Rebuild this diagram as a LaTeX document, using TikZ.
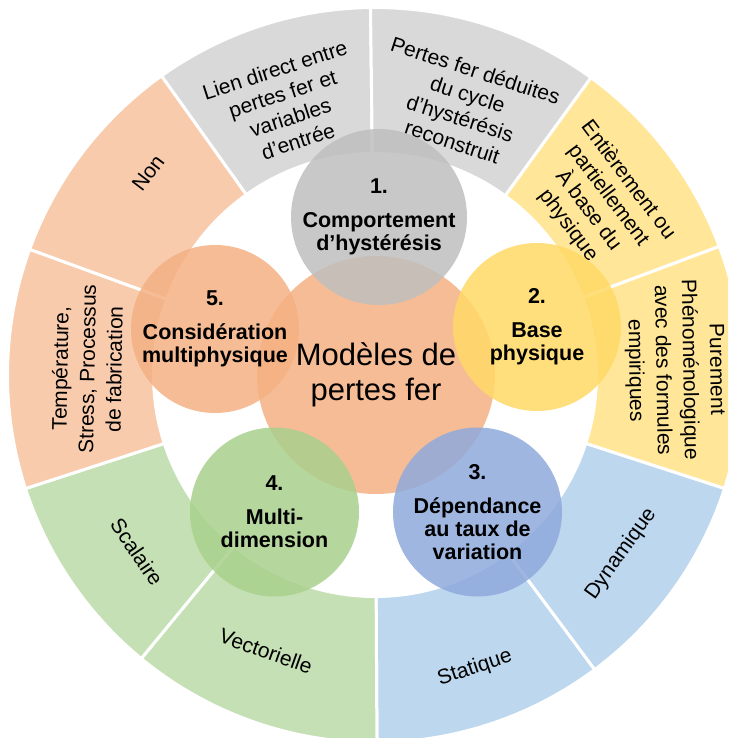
\documentclass[tikz,border=0pt]{standalone}
\usepackage{fontspec}
\setmainfont{Liberation Sans}
\definecolor{grisAnneau}{HTML}{D9D9D9}
\definecolor{jauneAnneau}{HTML}{FFE699}
\definecolor{bleuAnneau}{HTML}{BDD7EE}
\definecolor{vertAnneau}{HTML}{C5E0B4}
\definecolor{orangeAnneau}{HTML}{F8CBAD}
\definecolor{grisBulle}{HTML}{BFBFBF}
\definecolor{jauneBulle}{HTML}{FFD966}
\definecolor{bleuBulle}{HTML}{8FAADC}
\definecolor{vertBulle}{HTML}{A9D18E}
\definecolor{orangeBulle}{HTML}{F4B183}
\tikzset{
  secteur/.style={draw=white, line width=3pt},
  texteAnneau/.style={align=center, inner sep=0.75pt, font=\fontsize{21}{25}\selectfont},
  bulle/.style={circle, inner sep=0pt, fill opacity=0.85, text opacity=1, align=center, font=\bfseries\fontsize{21.5}{23}\selectfont},
}
\begin{document}
\begin{tikzpicture}[x=1pt,y=1pt,yscale=-1,xscale=1]
\useasboundingbox (0,0) rectangle (728,738);
\clip (0,0) rectangle (728,738);

%Shape: Arc
\draw[secteur, fill=jauneAnneau] (375,375) -- ++(-20.5:367.5) arc[start angle=-20.5, end angle=18, radius=367.5] -- cycle;
%Shape: Arc
\draw[secteur, fill=bleuAnneau] (375,375) -- ++(18:367.5) arc[start angle=18, end angle=53.3, radius=367.5] -- cycle;
%Shape: Arc
\draw[secteur, fill=bleuAnneau] (375,375) -- ++(53.3:367.5) arc[start angle=53.3, end angle=89.7, radius=367.5] -- cycle;
%Shape: Arc
\draw[secteur, fill=vertAnneau] (375,375) -- ++(89.7:367.5) arc[start angle=89.7, end angle=129.5, radius=367.5] -- cycle;
%Shape: Arc
\draw[secteur, fill=vertAnneau] (375,375) -- ++(129.5:367.5) arc[start angle=129.5, end angle=162, radius=367.5] -- cycle;
%Shape: Arc
\draw[secteur, fill=orangeAnneau] (375,375) -- ++(162:367.5) arc[start angle=162, end angle=200, radius=367.5] -- cycle;
%Shape: Arc
\draw[secteur, fill=orangeAnneau] (375,375) -- ++(200:367.5) arc[start angle=200, end angle=234.5, radius=367.5] -- cycle;
%Shape: Arc
\draw[secteur, fill=grisAnneau] (375,375) -- ++(234.5:367.5) arc[start angle=234.5, end angle=269.3, radius=367.5] -- cycle;
%Shape: Arc
\draw[secteur, fill=grisAnneau] (375,375) -- ++(269.3:367.5) arc[start angle=269.3, end angle=306, radius=367.5] -- cycle;
%Shape: Arc
\draw[secteur, fill=jauneAnneau] (375,375) -- ++(306:367.5) arc[start angle=306, end angle=339.5, radius=367.5] -- cycle;
%Shape: Circle
\fill[white] (375,375) circle[radius=223];

% Text Node
\draw (286.5,105.5) node [texteAnneau, rotate=18] (lienDirect) {Lien direct entre\\pertes fer et\\variables\\d’entrée};
% Text Node
\draw (464,106) node [texteAnneau, rotate=-18] (pertesDeduites) {Pertes fer déduites\\du cycle\\d’hystérésis\\reconstruit};
% Text Node
\draw (598,203) node [texteAnneau, rotate=-53] (baseEntiere) {Entièrement ou\\partiellement\\À base du\\physique};
% Text Node
\draw (675,370) node [texteAnneau, rotate=-89, font=\fontsize{21}{27}\selectfont] (purement) {Purement\\Phénoménologique\\avec des formules\\empiriques};
% Text Node
\draw (621,554) node [texteAnneau, rotate=54.4] (dynamique) {Dynamique};
% Text Node
\draw (475,668) node [texteAnneau, rotate=18.5] (statique) {Statique};
% Text Node
\draw (266,651) node [texteAnneau, rotate=-19.6] (vectorielle) {Vectorielle};
% Text Node
\draw (137,552) node [texteAnneau, rotate=-55.75] (scalaire) {Scalaire};
% Text Node
\draw (87,369) node [texteAnneau, rotate=89, font=\fontsize{21}{27}\selectfont] (temperature) {Température,\\Stress, Processus\\de fabrication};
% Text Node
\draw (148,173) node [texteAnneau, rotate=52.75] (non) {Non};

%Shape: Circle
\draw (376,375) node [circle, inner sep=0pt, minimum size=238pt, fill=orangeBulle, fill opacity=0.85, text opacity=1, align=center, font=\fontsize{31}{35}\selectfont] (modeles) {Modèles de\\pertes fer};
%Shape: Circle
\draw (379,217) node [bulle, fill=grisBulle, minimum size=176pt] (comportement) {1.\\[11pt]Comportement\\d’hystérésis};
%Shape: Circle
\draw (537,327) node [bulle, fill=jauneBulle, minimum size=168pt] (basePhysique) {2.\\[11pt]Base\\physique};
%Shape: Circle
\draw (477.5,512) node [bulle, fill=bleuBulle, minimum size=169pt] (dependance) {3.\\[11pt]Dépendance\\au taux de\\variation};
%Shape: Circle
\draw (274.5,512) node [bulle, fill=vertBulle, minimum size=169pt] (multiDim) {4.\\[11pt]Multi-\\dimension};
%Shape: Circle
\draw (215,329) node [bulle, fill=orangeBulle, minimum size=168pt] (multiphysique) {5.\\[11pt]Considération\\multiphysique};
\end{tikzpicture}
\end{document}
